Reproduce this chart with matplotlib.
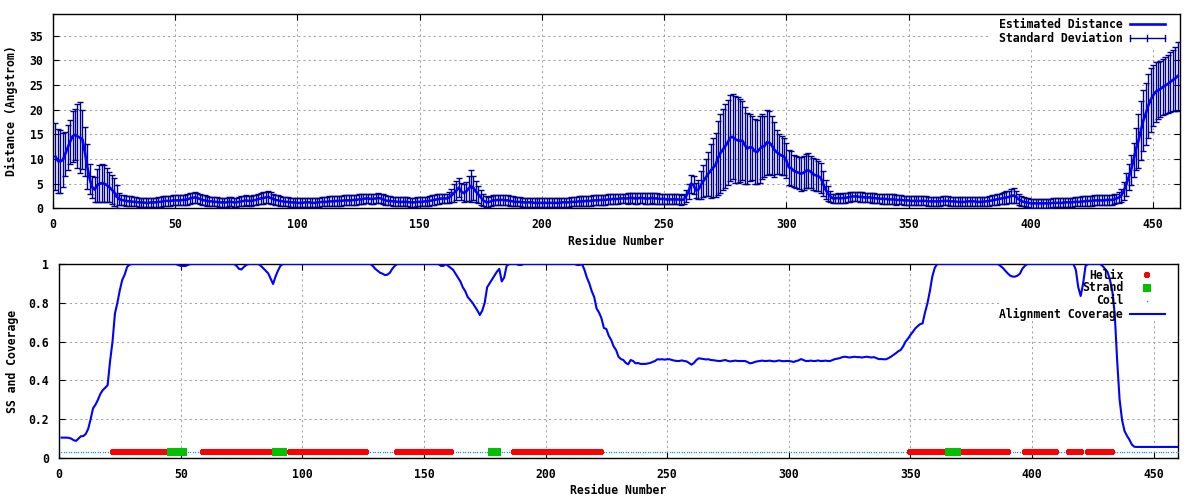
import matplotlib
matplotlib.use("Agg")
import matplotlib.pyplot as plt
from matplotlib.patches import Rectangle

# ---------------- data ----------------
residues = list(range(1, 461))

distance = [
    10.5, 9.6, 9.5, 9.8, 11.0, 12.3, 13.5, 14.6, 14.9, 14.6,
    14.3, 14.0, 11.5, 8.5, 6.0, 4.3, 3.8, 4.6, 5.0, 5.1,
    5.0, 4.7, 4.3, 3.8, 3.3, 2.4, 1.9, 1.7, 1.6, 1.5,
    1.4, 1.4, 1.3, 1.3, 1.2, 1.2, 1.2, 1.1, 1.1, 1.2,
    1.2, 1.2, 1.3, 1.3, 1.4, 1.5, 1.5, 1.5, 1.6, 1.6,
    1.6, 1.6, 1.7, 1.7, 1.8, 2.0, 2.1, 2.2, 2.1, 1.9,
    1.7, 1.6, 1.5, 1.4, 1.4, 1.3, 1.3, 1.2, 1.2, 1.2,
    1.2, 1.3, 1.3, 1.2, 1.2, 1.3, 1.4, 1.5, 1.6, 1.5,
    1.5, 1.6, 1.7, 1.9, 2.0, 2.1, 2.2, 2.3, 2.1, 1.9,
    1.7, 1.6, 1.5, 1.4, 1.3, 1.3, 1.2, 1.2, 1.2, 1.1,
    1.1, 1.1, 1.2, 1.2, 1.2, 1.1, 1.1, 1.2, 1.2, 1.3,
    1.3, 1.3, 1.4, 1.4, 1.4, 1.5, 1.5, 1.5, 1.6, 1.6,
    1.6, 1.6, 1.7, 1.7, 1.8, 1.8, 1.9, 2.0, 2.0, 1.9,
    1.9, 2.0, 2.1, 2.0, 1.8, 1.6, 1.5, 1.5, 1.4, 1.4,
    1.3, 1.3, 1.3, 1.3, 1.3, 1.2, 1.2, 1.2, 1.3, 1.3,
    1.3, 1.4, 1.4, 1.5, 1.6, 1.7, 1.8, 1.9, 2.0, 2.0,
    2.0, 2.2, 2.6, 3.1, 3.6, 4.2, 3.4, 3.1, 3.4, 4.0,
    4.5, 4.1, 3.4, 2.8, 2.2, 1.6, 1.3, 1.2, 1.4, 1.6,
    1.6, 1.7, 1.7, 1.7, 1.6, 1.6, 1.5, 1.4, 1.3, 1.3,
    1.3, 1.2, 1.2, 1.2, 1.2, 1.2, 1.1, 1.1, 1.1, 1.1,
    1.1, 1.1, 1.1, 1.1, 1.1, 1.1, 1.1, 1.2, 1.2, 1.2,
    1.2, 1.3, 1.3, 1.3, 1.4, 1.4, 1.4, 1.5, 1.5, 1.5,
    1.6, 1.6, 1.6, 1.7, 1.7, 1.7, 1.8, 1.8, 1.9, 1.9,
    1.9, 2.0, 2.0, 2.0, 2.0, 2.1, 2.1, 2.0, 2.0, 2.1,
    2.1, 2.0, 2.0, 2.0, 2.1, 2.0, 2.0, 1.9, 1.9, 1.9,
    1.8, 1.8, 1.8, 1.8, 1.8, 1.8, 1.7, 1.8, 2.5, 3.4,
    5.0, 4.7, 3.6, 3.8, 4.7, 5.5, 6.2, 7.0, 7.6, 8.2,
    8.8, 10.2, 11.2, 11.9, 12.6, 13.4, 14.3, 14.5, 14.0, 13.8,
    13.7, 13.7, 12.8, 12.1, 12.4, 12.3, 11.6, 11.4, 12.0, 12.5,
    12.6, 13.4, 13.3, 12.8, 11.9, 11.4, 11.0, 10.7, 10.5, 9.7,
    8.3, 8.1, 7.6, 7.4, 7.2, 7.0, 7.2, 7.6, 7.7, 7.4,
    6.9, 6.7, 6.5, 6.2, 5.0, 3.8, 3.0, 2.4, 2.0, 2.0,
    2.1, 2.0, 2.1, 2.1, 2.2, 2.3, 2.4, 2.4, 2.4, 2.3,
    2.3, 2.2, 2.2, 2.2, 2.1, 2.1, 2.0, 2.0, 1.9, 1.9,
    1.9, 1.8, 1.8, 1.8, 1.7, 1.7, 1.7, 1.6, 1.6, 1.6,
    1.5, 1.5, 1.5, 1.5, 1.5, 1.5, 1.5, 1.4, 1.4, 1.4,
    1.4, 1.4, 1.4, 1.5, 1.5, 1.5, 1.4, 1.4, 1.4, 1.3,
    1.3, 1.3, 1.3, 1.4, 1.4, 1.4, 1.4, 1.3, 1.3, 1.3,
    1.4, 1.4, 1.5, 1.6, 1.7, 1.8, 1.9, 2.0, 2.1, 2.2,
    2.3, 2.5, 2.6, 2.3, 1.8, 1.5, 1.3, 1.2, 1.1, 1.0,
    1.0, 1.0, 1.0, 1.0, 1.0, 1.0, 1.0, 1.0, 1.1, 1.1,
    1.1, 1.1, 1.1, 1.2, 1.2, 1.2, 1.2, 1.3, 1.3, 1.3,
    1.4, 1.4, 1.5, 1.5, 1.5, 1.6, 1.6, 1.6, 1.6, 1.6,
    1.7, 1.7, 1.7, 1.8, 2.0, 2.2, 2.6, 3.5, 4.8, 6.3,
    7.8, 9.8, 12.0, 13.7, 15.8, 17.8, 19.2, 20.8, 22.0, 22.9,
    23.6, 23.9, 24.2, 24.6, 24.9, 25.2, 25.6, 26.0, 26.3, 26.8,
]

std_dev = [
    6.8, 6.5, 6.4, 5.5, 4.5, 4.5, 4.5, 5.2, 5.2, 6.5,
    7.2, 6.0, 5.0, 4.5, 3.0, 2.3, 2.5, 3.4, 3.8, 3.8,
    3.8, 3.4, 3.0, 2.9, 2.8, 2.4, 1.2, 1.0, 1.0, 1.0,
    1.0, 1.0, 0.9, 0.9, 0.9, 0.9, 0.9, 0.9, 0.9, 0.9,
    0.9, 0.9, 1.0, 1.0, 1.0, 1.0, 1.0, 1.0, 1.0, 1.0,
    1.0, 1.0, 1.0, 1.0, 1.1, 1.1, 1.1, 1.2, 1.1, 1.1,
    1.0, 1.0, 1.0, 0.9, 0.9, 0.9, 0.9, 0.9, 0.9, 0.9,
    0.9, 0.9, 0.9, 0.9, 0.9, 0.9, 1.0, 1.0, 1.0, 1.0,
    1.0, 1.0, 1.0, 1.1, 1.1, 1.2, 1.2, 1.3, 1.2, 1.1,
    1.0, 1.0, 1.0, 0.9, 0.9, 0.9, 0.9, 0.9, 0.9, 0.9,
    0.9, 0.9, 0.9, 0.9, 0.9, 0.9, 0.9, 0.9, 0.9, 0.9,
    0.9, 0.9, 1.0, 1.0, 1.0, 1.0, 1.0, 1.0, 1.0, 1.0,
    1.0, 1.0, 1.0, 1.0, 1.0, 1.0, 1.0, 1.0, 1.0, 1.0,
    1.0, 1.0, 1.0, 1.0, 1.0, 1.0, 0.9, 0.9, 0.9, 0.9,
    0.9, 0.9, 0.9, 0.9, 0.9, 0.9, 0.9, 0.9, 0.9, 0.9,
    0.9, 0.9, 0.9, 1.0, 1.0, 1.0, 1.0, 1.0, 1.0, 1.0,
    1.0, 1.2, 1.4, 1.8, 2.0, 2.0, 1.8, 1.8, 2.0, 2.5,
    3.3, 2.5, 2.2, 1.8, 1.5, 1.2, 1.1, 1.0, 1.0, 1.0,
    1.0, 1.0, 1.0, 1.0, 1.0, 1.0, 1.0, 1.0, 0.9, 0.9,
    0.9, 0.9, 0.9, 0.9, 0.9, 0.9, 0.9, 0.9, 0.9, 0.9,
    0.9, 0.9, 0.9, 0.9, 0.9, 0.9, 0.9, 0.9, 0.9, 0.9,
    0.9, 0.9, 0.9, 0.9, 1.0, 1.0, 1.0, 1.0, 1.0, 1.0,
    1.0, 1.0, 1.0, 1.0, 1.0, 1.0, 1.0, 1.0, 1.0, 1.0,
    1.0, 1.0, 1.0, 1.0, 1.1, 1.1, 1.1, 1.1, 1.1, 1.1,
    1.1, 1.1, 1.1, 1.1, 1.1, 1.1, 1.1, 1.0, 1.0, 1.0,
    1.0, 1.0, 1.0, 1.0, 1.0, 1.0, 1.0, 1.0, 1.3, 1.6,
    1.8, 1.8, 1.5, 2.0, 2.8, 3.2, 3.8, 4.5, 5.5, 6.0,
    6.5, 7.5, 8.0, 8.2, 8.5, 8.6, 8.7, 8.6, 8.8, 8.7,
    8.4, 8.0, 7.8, 7.2, 6.8, 6.5, 6.6, 6.5, 6.8, 6.6,
    6.2, 6.6, 6.4, 6.0, 5.5, 4.5, 4.0, 4.0, 3.8, 3.5,
    3.6, 3.5, 3.3, 3.3, 3.2, 3.4, 3.5, 3.5, 3.6, 3.3,
    3.2, 3.2, 3.0, 3.0, 2.6, 2.0, 1.5, 1.2, 1.0, 1.0,
    1.0, 1.0, 1.0, 1.0, 1.0, 1.0, 1.0, 1.0, 1.0, 1.0,
    1.0, 1.0, 1.0, 1.0, 1.0, 1.0, 1.0, 1.0, 1.0, 1.0,
    1.0, 1.0, 1.0, 1.0, 1.0, 0.9, 0.9, 0.9, 0.9, 0.9,
    0.9, 0.9, 0.9, 0.9, 0.9, 0.9, 0.9, 0.9, 0.9, 0.9,
    0.9, 0.9, 0.9, 0.9, 0.9, 0.9, 0.9, 0.9, 0.9, 0.9,
    0.9, 0.9, 0.9, 0.9, 0.9, 0.9, 0.9, 0.9, 0.9, 0.9,
    0.9, 0.9, 1.0, 1.0, 1.0, 1.1, 1.1, 1.2, 1.2, 1.3,
    1.3, 1.4, 1.5, 1.3, 1.1, 1.0, 0.9, 0.9, 0.9, 0.9,
    0.9, 0.9, 0.9, 0.9, 0.9, 0.9, 0.9, 0.9, 0.9, 0.9,
    0.9, 0.9, 0.9, 0.9, 0.9, 0.9, 0.9, 0.9, 0.9, 0.9,
    1.0, 1.0, 1.0, 1.0, 1.0, 1.0, 1.0, 1.0, 1.0, 1.0,
    1.0, 1.0, 1.0, 1.0, 1.0, 1.1, 1.3, 1.8, 2.3, 2.6,
    3.0, 3.5, 4.3, 5.5, 6.0, 6.2, 6.3, 6.5, 6.5, 6.2,
    6.0, 5.8, 5.7, 5.6, 5.8, 5.9, 6.0, 6.2, 6.5, 7.0,
]

coverage = [
    0.105, 0.105, 0.105, 0.104, 0.100, 0.092, 0.088, 0.100, 0.112, 0.113,
    0.124, 0.150, 0.200, 0.256, 0.275, 0.300, 0.330, 0.350, 0.362, 0.376,
    0.500, 0.600, 0.745, 0.800, 0.865, 0.918, 0.945, 0.985, 0.997, 1.000,
    1.0, 1.0, 1.0, 1.0, 1.0, 1.0, 1.0, 1.0, 1.0, 1.0,
    1.0, 1.0, 1.0, 1.0, 1.0, 1.0, 1.0, 1.0, 0.995, 0.99,
    0.99, 0.99, 0.995, 1.0, 1.0, 1.0, 1.0, 1.0, 1.0, 1.0,
    1.0, 1.0, 1.0, 1.0, 1.0, 1.0, 1.0, 1.0, 1.0, 1.0,
    1.0, 1.0, 0.99, 0.975, 0.972, 0.985, 0.995, 1.0, 1.0, 1.0,
    1.0, 1.0, 0.99, 0.978, 0.965, 0.952, 0.925, 0.897, 0.935, 0.965,
    0.99, 1.0, 1.0, 1.0, 1.0, 1.0, 1.0, 1.0, 1.0, 1.0,
    1.0, 1.0, 1.0, 1.0, 1.0, 1.0, 1.0, 1.0, 1.0, 1.0,
    1.0, 1.0, 1.0, 1.0, 1.0, 1.0, 1.0, 1.0, 1.0, 1.0,
    1.0, 1.0, 1.0, 1.0, 1.0, 1.0, 1.0, 1.0, 0.99, 0.975,
    0.965, 0.955, 0.95, 0.943, 0.945, 0.955, 0.975, 0.99, 1.0, 1.0,
    1.0, 1.0, 1.0, 1.0, 1.0, 1.0, 1.0, 1.0, 1.0, 1.0,
    1.0, 1.0, 1.0, 1.0, 1.0, 1.0, 0.99, 0.99, 1.0, 0.99,
    0.98, 0.97, 0.95, 0.93, 0.91, 0.88, 0.86, 0.83, 0.815, 0.80,
    0.78, 0.76, 0.737, 0.76, 0.80, 0.88, 0.90, 0.92, 0.94, 0.96,
    0.975, 0.91, 0.93, 0.99, 1.0, 1.0, 1.0, 1.0, 0.995, 0.995,
    1.0, 1.0, 1.0, 1.0, 1.0, 1.0, 1.0, 1.0, 1.0, 1.0,
    1.0, 1.0, 1.0, 1.0, 1.0, 1.0, 1.0, 1.0, 1.0, 1.0,
    1.0, 1.0, 0.995, 0.995, 1.0, 0.97, 0.93, 0.90, 0.86, 0.83,
    0.77, 0.75, 0.72, 0.67, 0.665, 0.63, 0.608, 0.575, 0.557, 0.522,
    0.51, 0.505, 0.49, 0.483, 0.505, 0.5, 0.488, 0.49, 0.485, 0.485,
    0.485, 0.487, 0.49, 0.495, 0.5, 0.509, 0.508, 0.509, 0.507, 0.509,
    0.509, 0.505, 0.502, 0.5, 0.5, 0.503, 0.5, 0.498, 0.49, 0.481,
    0.49, 0.505, 0.514, 0.512, 0.51, 0.508, 0.509, 0.505, 0.504, 0.502,
    0.5, 0.5, 0.503, 0.505, 0.5, 0.498, 0.5, 0.502, 0.5, 0.5,
    0.5, 0.5, 0.495, 0.488, 0.49, 0.495, 0.498, 0.5, 0.502, 0.5,
    0.5, 0.502, 0.5, 0.498, 0.5, 0.503, 0.5, 0.499, 0.5, 0.5,
    0.498, 0.495, 0.5, 0.503, 0.51, 0.505, 0.5, 0.5, 0.502, 0.5,
    0.5, 0.503, 0.5, 0.5, 0.502, 0.5, 0.5, 0.505, 0.51, 0.512,
    0.515, 0.52, 0.522, 0.52, 0.518, 0.52, 0.522, 0.52, 0.52, 0.518,
    0.52, 0.522, 0.52, 0.518, 0.52, 0.515, 0.51, 0.51, 0.509, 0.509,
    0.515, 0.522, 0.531, 0.54, 0.55, 0.557, 0.575, 0.6, 0.615, 0.634,
    0.65, 0.668, 0.68, 0.69, 0.694, 0.75, 0.797, 0.86, 0.935, 0.98,
    1.0, 1.0, 1.0, 1.0, 1.0, 1.0, 1.0, 1.0, 1.0, 1.0,
    1.0, 1.0, 1.0, 1.0, 1.0, 1.0, 1.0, 1.0, 1.0, 1.0,
    1.0, 1.0, 1.0, 1.0, 1.0, 1.0, 0.99, 0.98, 0.965, 0.952,
    0.94, 0.935, 0.935, 0.94, 0.95, 0.975, 0.99, 1.0, 1.0, 1.0,
    1.0, 1.0, 1.0, 1.0, 1.0, 1.0, 1.0, 1.0, 1.0, 1.0,
    1.0, 1.0, 1.0, 1.0, 1.0, 1.0, 1.0, 0.97, 0.88, 0.835,
    0.90, 0.99, 1.0, 1.0, 1.0, 1.0, 1.0, 1.0, 0.99, 0.975,
    0.96, 0.92, 0.86, 0.74, 0.5, 0.3, 0.196, 0.14, 0.115, 0.095,
    0.07, 0.058, 0.057, 0.057, 0.057, 0.057, 0.057, 0.057, 0.057, 0.057,
    0.057, 0.057, 0.057, 0.057, 0.057, 0.057, 0.057, 0.057, 0.057, 0.057,
]

# secondary structure segments (first, last residue)
helix_ranges = [(22, 44), (59, 88), (95, 126), (139, 161), (187, 223),
                (350, 365), (370, 390), (397, 410), (415, 420), (423, 433)]
strand_ranges = [(46, 51), (89, 92), (178, 180), (366, 369)]
ss_level = 0.03

top_yticks = [0, 5, 10, 15, 20, 25, 30, 35]
bottom_yticks = [0, 0.2, 0.4, 0.6, 0.8, 1.0]
bottom_yticklabels = ["0", "0.2", "0.4", "0.6", "0.8", "1"]
xticks = [0, 50, 100, 150, 200, 250, 300, 350, 400, 450]

assert len(distance) == len(residues) == len(std_dev) == len(coverage)

helix_res = [r for a, b in helix_ranges for r in range(a, b + 1)]
strand_res = [r for a, b in strand_ranges for r in range(a, b + 1)]
coil_res = [r for r in residues if r not in helix_res and r not in strand_res]

# ---------------- style ----------------
plt.rcParams['font.family'] = ['DejaVu Sans Mono']
plt.rcParams['font.weight'] = 'bold'
plt.rcParams['font.size'] = 8.3

BLUE = '#0000ff'
DARKBLUE = '#00008b'
GRID = '#a0a0a0'
RED = '#ff0000'
GREEN = '#00c000'
COIL = '#1e90ff'

# helix point shape: a slightly notched upright block (gnuplot-like bitmap point)
HELIX_MARKER = [(-0.3, -0.5), (0.3, -0.5), (0.3, -0.38), (0.4, -0.38),
                (0.4, 0.38), (0.3, 0.38), (0.3, 0.5), (-0.3, 0.5),
                (-0.3, 0.38), (-0.4, 0.38), (-0.4, -0.38), (-0.3, -0.38)]

fig = plt.figure(figsize=(12, 5), dpi=100)
ax1 = fig.add_axes([53 / 1200, 1 - 208.3 / 500, 1127 / 1200, 194.3 / 500])
ax2 = fig.add_axes([59 / 1200, 1 - 458 / 500, 1119 / 1200, 194 / 500])


def style_axes(ax):
    ax.set_axisbelow(True)
    ax.grid(True, color=GRID, linestyle=(0, (2, 3)), linewidth=0.75)
    ax.tick_params(direction='in', top=True, right=True, length=4,
                   width=0.8, pad=7, labelsize=8.3)
    for sp in ax.spines.values():
        sp.set_linewidth(1.0)
    for lab in ax.get_xticklabels() + ax.get_yticklabels():
        lab.set_fontweight('bold')


# ---------------- top panel ----------------
ax1.errorbar(residues, distance, yerr=std_dev, fmt='none', ecolor=DARKBLUE,
             elinewidth=1.0, capsize=2.2, capthick=1.0, zorder=3)
ax1.plot(residues, distance, color=BLUE, linewidth=1.9, zorder=4)
ax1.set_xlim(0, 461)
ax1.set_ylim(0, 39.4)
ax1.set_xticks(xticks)
ax1.set_yticks(top_yticks)
style_axes(ax1)
ax1.set_xlabel("Residue Number", fontweight='bold')
ax1.xaxis.label.set_va('center')
ax1.xaxis.set_label_coords(0.5, -0.169)
ax1.set_ylabel("Distance (Angstrom)", fontweight='bold')
ax1.yaxis.label.set_va('center')
ax1.yaxis.set_label_coords(-0.037, 0.5)

# key (gnuplot style: text right aligned, sample on the right)
ax1.add_patch(Rectangle((0.831, 0.83), 0.169, 0.17, transform=ax1.transAxes,
                        facecolor='white', edgecolor='none', zorder=1))
tx = 0.9494
x0, x1 = 0.9556, 0.9867
y_a, y_b = 0.948, 0.876
ax1.text(tx, y_a, "Estimated Distance", transform=ax1.transAxes,
         ha='right', va='center', fontweight='bold', zorder=6)
ax1.plot([x0, x1], [y_a, y_a], transform=ax1.transAxes, color=BLUE,
         linewidth=1.9, clip_on=False, zorder=6)
ax1.text(tx, y_b, "Standard Deviation", transform=ax1.transAxes,
         ha='right', va='center', fontweight='bold', zorder=6)
ax1.plot([x0, x1], [y_b, y_b], transform=ax1.transAxes, color=DARKBLUE,
         linewidth=1.0, clip_on=False, zorder=6)
for xx in (x0, (x0 + x1) / 2, x1):
    ax1.plot([xx, xx], [y_b - 0.016, y_b + 0.016], transform=ax1.transAxes,
             color=DARKBLUE, linewidth=1.0, clip_on=False, zorder=6)

# ---------------- bottom panel ----------------
ax2.plot(coil_res, [ss_level] * len(coil_res), linestyle='none', marker='o',
         markersize=1.0, markeredgewidth=0, color=COIL, zorder=3)
ax2.plot(helix_res, [ss_level] * len(helix_res), linestyle='none',
         marker=HELIX_MARKER, markersize=4.6, markeredgewidth=0, color=RED,
         zorder=3)
ax2.plot(strand_res, [ss_level] * len(strand_res), linestyle='none', marker='s',
         markersize=5.2, markeredgewidth=0, color=GREEN, zorder=3)
ax2.plot(residues, coverage, color=BLUE, linewidth=1.5, zorder=4)
ax2.set_xlim(0, 460)
ax2.set_ylim(0, 1)
ax2.set_xticks(xticks)
ax2.set_yticks(bottom_yticks)
ax2.set_yticklabels(bottom_yticklabels)
style_axes(ax2)
ax2.set_xlabel("Residue Number", fontweight='bold')
ax2.xaxis.label.set_va('center')
ax2.xaxis.set_label_coords(0.5, -0.17)
ax2.set_ylabel("SS and Coverage", fontweight='bold')
ax2.yaxis.label.set_va('center')
ax2.yaxis.set_label_coords(-0.042, 0.5)

ax2.add_patch(Rectangle((0.84, 0.711), 0.16, 0.289, transform=ax2.transAxes,
                        facecolor='white', edgecolor='none', zorder=1))
tx2 = 0.951
xm = 0.9725
rows = [0.943, 0.877, 0.81, 0.742]
ax2.text(tx2, rows[0], "Helix", transform=ax2.transAxes, ha='right',
         va='center', fontweight='bold', zorder=6)
ax2.plot([xm], [rows[0]], transform=ax2.transAxes, marker=HELIX_MARKER,
         markersize=4.6, markeredgewidth=0, color=RED, linestyle='none',
         clip_on=False, zorder=6)
ax2.text(tx2, rows[1], "Strand", transform=ax2.transAxes, ha='right',
         va='center', fontweight='bold', zorder=6)
ax2.plot([xm], [rows[1]], transform=ax2.transAxes, marker='s', markersize=5.2,
         markeredgewidth=0, color=GREEN, linestyle='none', clip_on=False, zorder=6)
ax2.text(tx2, rows[2], "Coil", transform=ax2.transAxes, ha='right',
         va='center', fontweight='bold', zorder=6)
ax2.plot([xm], [rows[2]], transform=ax2.transAxes, marker='o', markersize=1.0,
         markeredgewidth=0, color=COIL, linestyle='none', clip_on=False, zorder=6)
ax2.text(tx2, rows[3], "Alignment Coverage", transform=ax2.transAxes,
         ha='right', va='center', fontweight='bold', zorder=6)
ax2.plot([0.957, 0.988], [rows[3], rows[3]], transform=ax2.transAxes,
         color=BLUE, linewidth=1.5, clip_on=False, zorder=6)

fig.savefig("out.png", dpi=100)
